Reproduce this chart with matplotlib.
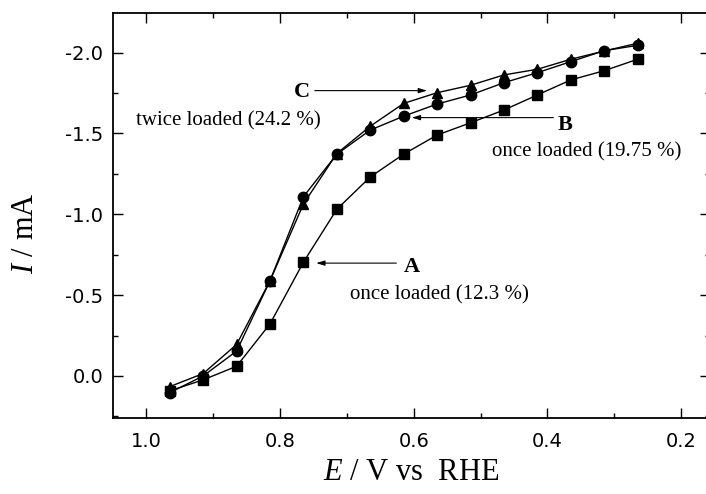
import matplotlib
matplotlib.use("Agg")
import matplotlib.pyplot as plt
from matplotlib.ticker import MultipleLocator, FormatStrFormatter

plt.rcParams['axes.unicode_minus'] = False
plt.rcParams['mathtext.fontset'] = 'custom'
plt.rcParams['mathtext.rm'] = 'Liberation Serif'
plt.rcParams['mathtext.it'] = 'Liberation Serif:italic'

# potential (V vs RHE) and current (mA)
E = [0.965, 0.915, 0.865, 0.815, 0.765, 0.715, 0.665, 0.615,
     0.565, 0.515, 0.465, 0.415, 0.365, 0.315, 0.265]
I_A = [0.092, 0.024, -0.060, -0.322, -0.704, -1.031, -1.231, -1.372,
       -1.490, -1.566, -1.645, -1.738, -1.831, -1.888, -1.959]
I_B = [0.103, 0.000, -0.154, -0.589, -1.109, -1.372, -1.521, -1.607,
       -1.682, -1.738, -1.814, -1.876, -1.944, -2.012, -2.045]
I_C = [0.066, -0.015, -0.195, -0.589, -1.064, -1.376, -1.545, -1.686,
       -1.752, -1.798, -1.862, -1.897, -1.959, -2.010, -2.058]

serif = 'Liberation Serif'

fig = plt.figure(figsize=(7.06, 4.94), dpi=100)
ax = fig.add_axes([113 / 706, 1 - 418.3 / 494, (710 - 113) / 706, (418.3 - 12.7) / 494])

kw = dict(color='black', lw=1.0, markersize=7.5)
ax.plot(E, I_A, marker='s', **kw)
ax.plot(E, I_B, marker='o', **kw)
ax.plot(E, I_C, marker='^', **kw)

ax.set_xlim(1.05, 0.1566)
ax.set_ylim(0.262, -2.247)

ax.xaxis.set_major_locator(MultipleLocator(0.2))
ax.xaxis.set_minor_locator(MultipleLocator(0.1))
ax.yaxis.set_major_locator(MultipleLocator(0.5))
ax.yaxis.set_minor_locator(MultipleLocator(0.25))
ax.xaxis.set_major_formatter(FormatStrFormatter('%.1f'))
ax.yaxis.set_major_formatter(FormatStrFormatter('%.1f'))

ax.tick_params(which='both', direction='in', top=True, right=True, width=1.0)
ax.tick_params(which='major', length=7.2)
ax.tick_params(which='minor', length=3.6)
ax.tick_params(axis='x', pad=10)
ax.tick_params(axis='y', pad=7)
for lab in ax.get_xticklabels() + ax.get_yticklabels():
    lab.set_fontfamily('DejaVu Sans')
    lab.set_fontsize(14)
for s in ax.spines.values():
    s.set_linewidth(1.3)

ax.set_xlabel(r'$E$ / V vs  RHE', fontfamily=serif, fontsize=22, labelpad=5)
ax.set_ylabel(r'$I$ / mA', fontfamily=serif, fontsize=22)
ax.yaxis.set_label_coords(-0.122, 0.457)

# annotations
arrow = dict(arrowstyle='-|>,head_length=0.5,head_width=0.15', color='black',
             lw=0.8, shrinkA=0, shrinkB=0)
ax.annotate('', xy=(0.58, -1.765), xytext=(0.748, -1.765), arrowprops=arrow)
ax.text(0.767, -1.759, 'C', fontfamily=serif, fontsize=16, fontweight='bold',
        ha='center', va='center')
ax.text(0.877, -1.578, 'twice loaded (24.2 %)', fontfamily=serif, fontsize=15,
        ha='center', va='center')

ax.annotate('', xy=(0.603, -1.598), xytext=(0.391, -1.598), arrowprops=arrow)
ax.text(0.374, -1.552, 'B', fontfamily=serif, fontsize=16, fontweight='bold',
        ha='center', va='center')
ax.text(0.341, -1.386, 'once loaded (19.75 %)', fontfamily=serif, fontsize=15,
        ha='center', va='center')

ax.annotate('', xy=(0.746, -0.698), xytext=(0.626, -0.698), arrowprops=arrow)
ax.text(0.603, -0.674, 'A', fontfamily=serif, fontsize=16, fontweight='bold',
        ha='center', va='center')
ax.text(0.562, -0.503, 'once loaded (12.3 %)', fontfamily=serif, fontsize=15,
        ha='center', va='center')

fig.savefig('out.png', dpi=100)
